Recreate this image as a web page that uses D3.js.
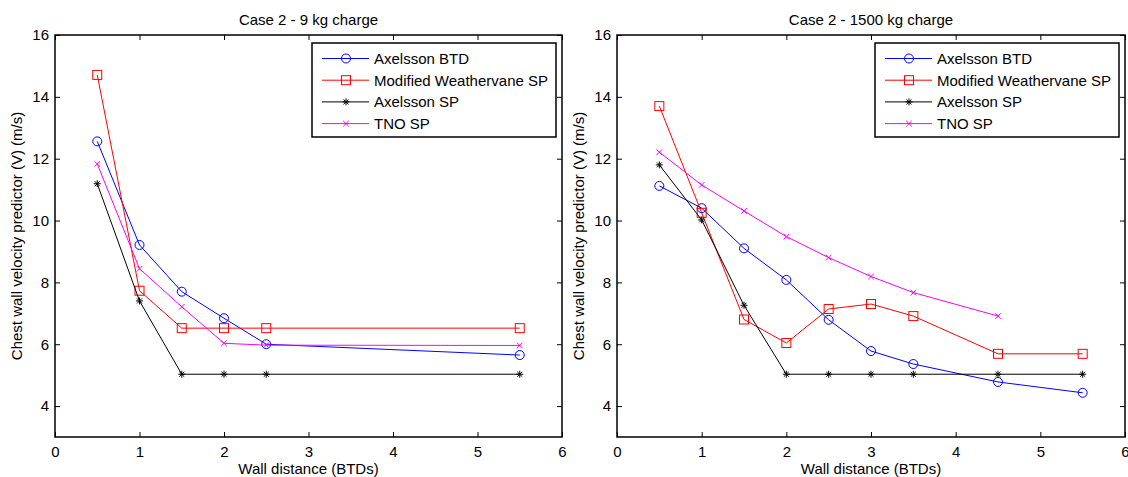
<!DOCTYPE html>
<meta charset="utf-8">
<style>
body { margin: 0; background: #fff; }
text { font-family: "Liberation Sans", Arial, sans-serif; fill: #000; }
</style>

<svg width="1128" height="477"></svg>

<script src="https://d3js.org/d3.v7.min.js"></script>
<script>

// distances (BTDs)
var xSmall = [0.5, 1, 1.5, 2, 2.5, 5.5];
var xLarge = [0.5, 1, 1.5, 2, 2.5, 3, 3.5, 4.5, 5.5];

// 9 kg charge
var btd9   = [12.56, 9.21, 7.70, 6.84, 6.00, 5.65];
var mwv9   = [14.71, 7.73, 6.52, 6.52, 6.52, 6.52];
var axsp9  = [11.19, 7.40, 5.03, 5.03, 5.03, 5.03];
var tno9   = [11.83, 8.44, 7.21, 6.03, 5.97, 5.96];

// 1500 kg charge
var btd1500  = [11.12, 10.40, 9.10, 8.08, 6.79, 5.78, 5.36, 4.78, 4.43];
var mwv1500  = [13.70, 10.25, 6.80, 6.04, 7.14, 7.30, 6.91, 5.69, 5.69];
var axsp1500 = [11.80, 10.02, 7.26, 5.03, 5.03, 5.03, 5.03, 5.03, 5.03];
var tno1500  = [12.21, 11.15, 10.31, 9.48, 8.80, 8.19, 7.67, 6.91];

var seriesNames = ["Axelsson BTD", "Modified Weathervane SP", "Axelsson SP", "TNO SP"];
var seriesColors = ["#0000ff", "#ff0000", "#000000", "#ff00ff"];
var seriesMarkers = ["circle", "square", "star", "cross"];

var xTicks = [0, 1, 2, 3, 4, 5, 6];
var yTicks = [4, 6, 8, 10, 12, 14, 16];

var svg = d3.select("svg");

function marker(g, type, x, y, color) {
  if (type == "circle") {
    g.append("circle").attr("cx", x).attr("cy", y).attr("r", 4.5)
      .attr("fill", "none").attr("stroke", color);
  } else if (type == "square") {
    g.append("rect").attr("x", x - 4.5).attr("y", y - 4.5).attr("width", 9).attr("height", 9)
      .attr("fill", "none").attr("stroke", color);
  } else if (type == "star") {
    var r = 3.5;
    [0, 45, 90, 135].forEach(a => {
      var dx = r * Math.cos(a * Math.PI / 180), dy = r * Math.sin(a * Math.PI / 180);
      g.append("line").attr("x1", x - dx).attr("y1", y - dy).attr("x2", x + dx).attr("y2", y + dy)
        .attr("stroke", color);
    });
  } else {
    var r = 2.8;
    g.append("line").attr("x1", x - r).attr("y1", y - r).attr("x2", x + r).attr("y2", y + r).attr("stroke", color);
    g.append("line").attr("x1", x - r).attr("y1", y + r).attr("x2", x + r).attr("y2", y - r).attr("stroke", color);
  }
}

function panel(left, right, title, series) {
  var top = 35, bottom = 437;
  var x = d3.scaleLinear().domain([0, 6]).range([left, right]);
  var y = d3.scaleLinear().domain([3, 16]).range([bottom, top]);
  var g = svg.append("g");

  // title
  g.append("text").attr("x", (left + right) / 2).attr("y", 25)
    .attr("text-anchor", "middle").style("font-size", "15px").text(title);

  // axes with inward ticks on all four sides
  var ax = [
    d3.axisBottom(x).tickValues(xTicks).tickSize(-5).tickPadding(9).tickFormat(d3.format("d")),
    d3.axisTop(x).tickValues(xTicks).tickSize(-5).tickFormat(""),
    d3.axisLeft(y).tickValues(yTicks).tickSize(-5).tickPadding(6).tickFormat(d3.format("d")),
    d3.axisRight(y).tickValues(yTicks).tickSize(-5).tickFormat("")
  ];
  var tr = ["translate(0," + bottom + ")", "translate(0," + top + ")",
            "translate(" + left + ",0)", "translate(" + right + ",0)"];
  ax.forEach((a, i) => {
    var ag = g.append("g").attr("transform", tr[i]).call(a);
    ag.select(".domain").remove();
    ag.selectAll("text").style("font-size", "15px").style("font-family", "Liberation Sans, Arial, sans-serif");
  });
  g.append("rect").attr("x", left).attr("y", top).attr("width", right - left).attr("height", bottom - top)
    .attr("fill", "none").attr("stroke", "#000").attr("stroke-width", 1.5);

  // axis labels
  g.append("text").attr("x", (left + right) / 2).attr("y", 474)
    .attr("text-anchor", "middle").style("font-size", "15px").text("Wall distance (BTDs)");
  g.append("text").attr("transform", "translate(" + (left - 33) + "," + ((top + bottom) / 2) + ") rotate(-90)")
    .attr("text-anchor", "middle").style("font-size", "15px").text("Chest wall velocity predictor (V) (m/s)");

  // lines and markers
  var line = d3.line().x(d => x(d[0])).y(d => y(d[1]));
  series.forEach((s, i) => {
    var pts = s.ys.map((v, j) => [s.xs[j], v]);
    g.append("path").attr("d", line(pts)).attr("fill", "none")
      .attr("stroke", seriesColors[i]).attr("stroke-width", 1);
    pts.forEach(p => marker(g, seriesMarkers[i], x(p[0]), y(p[1]), seriesColors[i]));
  });

  // legend
  var lx = right - 250, ly = 43;
  g.append("rect").attr("x", lx).attr("y", ly).attr("width", 244).attr("height", 94)
    .attr("fill", "#fff").attr("stroke", "#000").attr("stroke-width", 1.5);
  seriesNames.forEach((n, i) => {
    var yy = ly + 15.5 + i * 21.7;
    g.append("line").attr("x1", lx + 10).attr("x2", lx + 57).attr("y1", yy).attr("y2", yy)
      .attr("stroke", seriesColors[i]);
    marker(g, seriesMarkers[i], lx + 34, yy, seriesColors[i]);
    g.append("text").attr("x", lx + 62).attr("y", yy + 5.5).style("font-size", "15px").text(n);
  });
}

panel(55, 562, "Case 2 - 9 kg charge", [
  {xs: xSmall, ys: btd9}, {xs: xSmall, ys: mwv9}, {xs: xSmall, ys: axsp9}, {xs: xSmall, ys: tno9}
]);
panel(617, 1125, "Case 2 - 1500 kg charge", [
  {xs: xLarge, ys: btd1500}, {xs: xLarge, ys: mwv1500}, {xs: xLarge, ys: axsp1500}, {xs: xLarge, ys: tno1500}
]);

</script>
